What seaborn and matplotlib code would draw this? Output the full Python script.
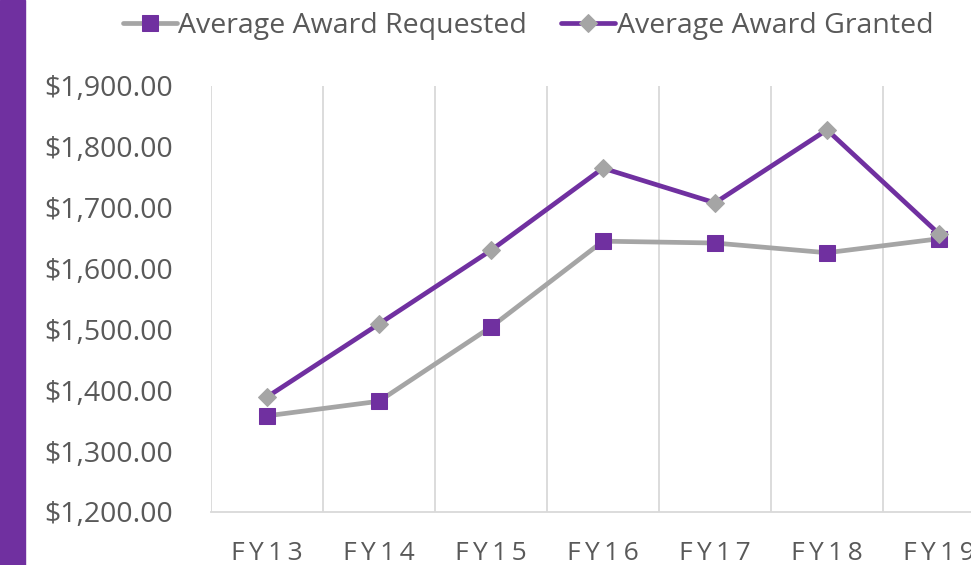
import matplotlib
matplotlib.use("Agg")
import matplotlib.pyplot as plt
import seaborn as sns
import pandas as pd
from matplotlib.patches import Rectangle
from matplotlib.ticker import FuncFormatter

# chart data
years = ["FY13", "FY14", "FY15", "FY16", "FY17", "FY18", "FY19"]
requested = [1358, 1382, 1504, 1645, 1642, 1626, 1649]
granted = [1389, 1509, 1630, 1765, 1708, 1828, 1657]

PURPLE = "#7030A0"
GREY = "#A5A5A5"
TEXT = "#595959"

sns.set_theme(style="white")
plt.rcParams["font.family"] = ["Open Sans", "DejaVu Sans"]

df = pd.DataFrame({"year": years, "requested": requested, "granted": granted})

fig = plt.figure(figsize=(9.71, 5.65), dpi=100)
ax = fig.add_axes([211 / 971, 53 / 565, 784 / 971, 426 / 565])

sns.lineplot(data=df, x="year", y="requested", ax=ax, color=GREY, linewidth=3.4,
             marker="s", markersize=12, markerfacecolor=PURPLE, markeredgecolor=PURPLE,
             label="Average Award Requested", sort=False)
sns.lineplot(data=df, x="year", y="granted", ax=ax, color=PURPLE, linewidth=3.4,
             marker="D", markersize=9, markerfacecolor=GREY, markeredgecolor=GREY,
             label="Average Award Granted", sort=False)

ax.set_xlim(-0.5, len(years) - 0.5)
ax.set_ylim(1200, 1900)
ax.set_yticks(range(1200, 1901, 100))
ax.yaxis.set_major_formatter(FuncFormatter(lambda v, p: f"${v:,.2f}"))

# vertical gridlines between categories
for b in [i - 0.5 for i in range(len(years) + 1)]:
    ax.axvline(b, color="#D9D9D9", linewidth=1.3, zorder=0)

for s in ["top", "right", "left"]:
    ax.spines[s].set_visible(False)
ax.spines["bottom"].set_color("#D9D9D9")
ax.spines["bottom"].set_linewidth(1.3)

ax.set_xlabel("")
ax.set_ylabel("")
ax.set_xticks(range(len(years)))
ax.set_xticklabels(["\u2009".join(y) for y in years])
ax.tick_params(axis="y", labelsize=20.5, colors=TEXT, pad=27, length=0)
ax.tick_params(axis="x", labelsize=19, colors=TEXT, pad=21, length=0)

leg = ax.legend(loc="center", bbox_to_anchor=(528 / 971, 1 - 26 / 565),
                bbox_transform=fig.transFigure, ncol=2, frameon=False,
                fontsize=20.5, handlelength=1.9, handletextpad=0.05, columnspacing=1.2)
for t in leg.get_texts():
    t.set_color(TEXT)

# purple side bar
fig.patches.append(Rectangle((0, 0), 25 / 971, 1, transform=fig.transFigure,
                             color=PURPLE, zorder=5))

fig.savefig("out.png", dpi=100)
